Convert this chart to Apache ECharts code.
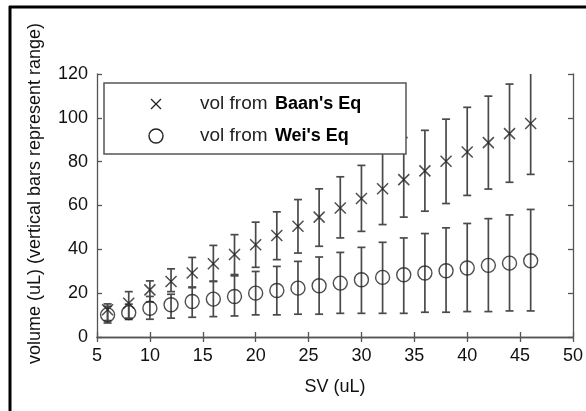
<!DOCTYPE html>
<html>
<head>
<meta charset="utf-8">
<script src="https://cdn.jsdelivr.net/npm/echarts@6/dist/echarts.min.js"></script>
<style>
html, body { margin: 0; padding: 0; background: #fff; }
#main { width: 586px; height: 411px; }
</style>
</head>
<body>
<div id="main"></div>
<script>
// SV (uL) values on the x axis
var svX = [6, 8, 10, 12, 14, 16, 18, 20, 22, 24, 26, 28, 30, 32, 34, 36, 38, 40, 42, 44, 46];

// vol from Baan's Eq: marker, bottom and top of range
var baanVol  = [12.4, 15.4, 21.5, 25.3, 29.2, 33.4, 37.6, 42.1, 46.3, 50.5, 54.7, 58.9, 63.2, 67.6, 71.8, 75.8, 80.2, 84.4, 88.7, 92.8, 97.4];
var baanLow  = [6.4, 8.6, 16.0, 20.7, 22.8, 25.3, 27.9, 31.8, 35.3, 38.3, 41.4, 45.2, 48.2, 51.3, 54.7, 57.4, 60.9, 64.6, 67.5, 70.6, 74.2];
var baanHigh = [15.1, 20.7, 25.6, 31.1, 36.3, 41.8, 46.7, 52.4, 57.1, 62.7, 67.6, 73.1, 78.3, 86.0, 91.0, 94.3, 99.4, 104.8, 109.9, 115.4, 125.0];

// vol from Wei's Eq: marker, bottom and top of range
var weiVol  = [10.1, 11.1, 13.1, 14.7, 16.2, 17.3, 18.5, 20.0, 21.2, 22.3, 23.4, 24.6, 26.1, 27.2, 28.4, 29.2, 30.2, 31.5, 32.7, 33.7, 34.8];
var weiLow  = [7.5, 8.0, 8.1, 8.6, 9.0, 9.3, 9.6, 10.1, 10.1, 10.4, 10.4, 10.8, 10.8, 10.8, 10.8, 11.3, 11.3, 11.6, 11.6, 11.9, 11.9];
var weiHigh = [14.0, 15.0, 18.5, 19.5, 22.5, 25.5, 28.5, 29.9, 32.2, 34.5, 36.5, 38.6, 40.9, 43.2, 45.2, 47.2, 49.8, 51.8, 54.0, 55.7, 58.2];

var FONT = 'Liberation Sans, Arial, sans-serif';
var AXIS_COLOR = '#555';
var BAR_COLOR = '#4a4a4a';
var MARK_COLOR = '#222';
var crossPath = 'path://M0,0L10,10M0,10L10,0';

var chart = echarts.init(document.getElementById('main'));

function pairs(ys) {
    var out = [];
    for (var i = 0; i < svX.length; i++) {
        out.push([svX[i], ys[i]]);
    }
    return out;
}

function ranges(lo, hi) {
    var out = [];
    for (var i = 0; i < svX.length; i++) {
        out.push([svX[i], lo[i], hi[i]]);
    }
    return out;
}

// vertical range bar with caps
function renderRange(params, api) {
    var x = api.value(0);
    var lo = api.coord([x, api.value(1)]);
    var hi = api.coord([x, api.value(2)]);
    var hw = 4;
    var st = { stroke: BAR_COLOR, lineWidth: 1.7 };
    return {
        type: 'group',
        children: [
            { type: 'line', shape: { x1: lo[0], y1: lo[1], x2: hi[0], y2: hi[1] }, style: st },
            { type: 'line', shape: { x1: lo[0] - hw, y1: lo[1], x2: lo[0] + hw, y2: lo[1] }, style: st },
            { type: 'line', shape: { x1: hi[0] - hw, y1: hi[1], x2: hi[0] + hw, y2: hi[1] }, style: st }
        ]
    };
}

var axisLine = { show: true, lineStyle: { color: AXIS_COLOR, width: 1.3 } };
var axisTick = { show: true, inside: true, length: 5, lineStyle: { color: AXIS_COLOR, width: 1.3 } };

var legendRich = {
    a: { fontSize: 19, fontFamily: FONT, fill: '#222' },
    b: { fontSize: 18, fontFamily: FONT, fontWeight: 'bold', fill: '#000', padding: [0, 0, 0, 4] }
};

var option = {
    animation: false,
    backgroundColor: '#fff',
    grid: { left: 97, right: 12, top: 74, bottom: 74 },
    xAxis: [{
        type: 'value', min: 5, max: 50, interval: 5, position: 'bottom',
        axisLine: axisLine, axisTick: axisTick, splitLine: { show: false },
        axisLabel: { color: '#111', fontSize: 18, fontFamily: FONT, margin: 10 },
        name: 'SV (uL)', nameLocation: 'middle', nameGap: 41,
        nameTextStyle: { color: '#111', fontSize: 18, fontFamily: FONT }
    }, {
        type: 'value', min: 5, max: 50, interval: 5, position: 'top',
        axisLine: axisLine, axisTick: axisTick, splitLine: { show: false },
        axisLabel: { show: false }
    }],
    yAxis: [{
        type: 'value', min: 0, max: 120, interval: 20, position: 'left',
        axisLine: axisLine, axisTick: axisTick, splitLine: { show: false },
        axisLabel: { color: '#111', fontSize: 18, fontFamily: FONT, margin: 9 },
        name: 'volume (uL) (vertical bars represent range)', nameLocation: 'middle', nameGap: 53,
        nameTextStyle: { color: '#111', fontSize: 18, fontFamily: FONT, padding: [0, 0, 0, 24] }
    }, {
        type: 'value', min: 0, max: 120, interval: 20, position: 'right',
        axisLine: axisLine, axisTick: axisTick, splitLine: { show: false },
        axisLabel: { show: false }
    }],
    series: [{
        name: 'baanRange', type: 'custom', renderItem: renderRange, clip: true,
        encode: { x: 0, y: [1, 2] }, data: ranges(baanLow, baanHigh), z: 2
    }, {
        name: 'weiRange', type: 'custom', renderItem: renderRange, clip: true,
        encode: { x: 0, y: [1, 2] }, data: ranges(weiLow, weiHigh), z: 2
    }, {
        name: "vol from Baan's Eq", type: 'scatter', symbol: crossPath, symbolSize: 11,
        itemStyle: { color: 'transparent', borderColor: MARK_COLOR, borderWidth: 1.5 },
        data: pairs(baanVol), z: 3
    }, {
        name: "vol from Wei's Eq", type: 'scatter', symbol: 'circle', symbolSize: 14,
        itemStyle: { color: 'transparent', borderColor: MARK_COLOR, borderWidth: 1.4 },
        data: pairs(weiVol), z: 3
    }],
    graphic: [
        // outer frame of the figure
        { type: 'line', shape: { x1: 9, y1: 7, x2: 586, y2: 7 }, style: { stroke: '#000', lineWidth: 3 }, z: 100 },
        { type: 'line', shape: { x1: 10, y1: 6, x2: 10, y2: 411 }, style: { stroke: '#000', lineWidth: 3 }, z: 100 },
        // legend box
        { type: 'rect', shape: { x: 104, y: 83, width: 302, height: 71 },
          style: { fill: '#fff', stroke: AXIS_COLOR, lineWidth: 1.5 }, z: 100 },
        { type: 'line', shape: { x1: 151, y1: 99, x2: 161, y2: 109 },
          style: { stroke: MARK_COLOR, lineWidth: 1.3 }, z: 101 },
        { type: 'line', shape: { x1: 151, y1: 109, x2: 161, y2: 99 },
          style: { stroke: MARK_COLOR, lineWidth: 1.3 }, z: 101 },
        { type: 'circle', shape: { cx: 156, cy: 136, r: 7 },
          style: { fill: 'none', stroke: MARK_COLOR, lineWidth: 1.4 }, z: 101 },
        { type: 'text', x: 200, y: 104, z: 101,
          style: { text: "{a|vol from} {b|Baan's Eq}", verticalAlign: 'middle', rich: legendRich } },
        { type: 'text', x: 200, y: 136, z: 101,
          style: { text: "{a|vol from} {b|Wei's Eq}", verticalAlign: 'middle', rich: legendRich } }
    ]
};

chart.setOption(option);
</script>
</body>
</html>
